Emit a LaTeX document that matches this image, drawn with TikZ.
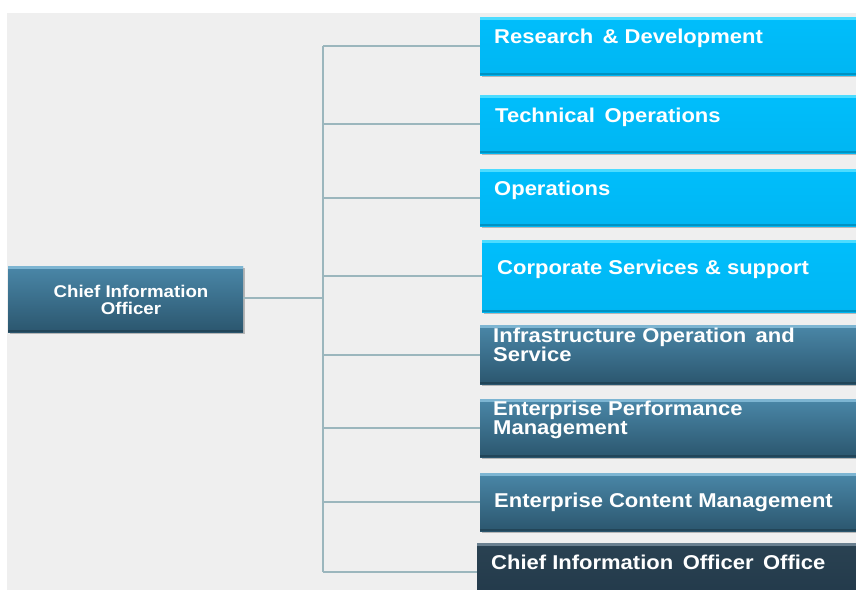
\documentclass[tikz,border=0pt]{standalone}
\usepackage{fontspec}
\setmainfont{Liberation Sans}[FakeStretch=1.1]
\usetikzlibrary{shadows}
\definecolor{bg}{HTML}{EFEFEF}
\definecolor{skyA}{HTML}{00BEFC}
\definecolor{skyB}{HTML}{00B6F2}
\definecolor{skyTop}{HTML}{4CDCFF}
\definecolor{tealA}{HTML}{4A87A8}
\definecolor{tealB}{HTML}{2B566E}
\definecolor{tealTop}{HTML}{7DB5D2}
\definecolor{darkA}{HTML}{2A4252}
\definecolor{darkB}{HTML}{22394A}
\definecolor{darkTop}{HTML}{6A8090}
\definecolor{wire}{HTML}{9BB6BD}
\tikzset{
  boxbase/.style={rectangle, anchor=north west, inner sep=0pt, draw=none,
    drop shadow={shadow xshift=1.5pt, shadow yshift=-2pt, opacity=0.35, fill=black!70}},
  skybox/.style={boxbase, top color=skyA, bottom color=skyB,
    path picture={\fill[skyTop] (path picture bounding box.north west) rectangle ([yshift=-3pt]path picture bounding box.north east);
                  \fill[skyB!80!black] (path picture bounding box.south west) rectangle ([yshift=2pt]path picture bounding box.south east);}},
  tealbox/.style={boxbase, top color=tealA, bottom color=tealB,
    path picture={\fill[tealTop] (path picture bounding box.north west) rectangle ([yshift=-3pt]path picture bounding box.north east);
                  \fill[tealB!80!black] (path picture bounding box.south west) rectangle ([yshift=2pt]path picture bounding box.south east);}},
  darkbox/.style={boxbase, top color=darkA, bottom color=darkB,
    path picture={\fill[darkTop] (path picture bounding box.north west) rectangle ([yshift=-3pt]path picture bounding box.north east);}},
  lbl/.style={anchor=base west, inner sep=0pt, text=white, align=left,
    font=\bfseries\fontsize{20}{19}\selectfont},
  ciolbl/.style={anchor=base, inner sep=0pt, text=white, align=center,
    font=\bfseries\fontsize{17}{17}\selectfont},
  wireline/.style={draw=wire, line width=2pt},
  busline/.style={draw=wire, line width=2.6pt}
}
\begin{document}
\begin{tikzpicture}[x=1pt,y=-1pt]
\useasboundingbox (0,0) rectangle (856,589);
\clip (0,0) rectangle (856,589);
\fill[white] (0,0) rectangle (856,589);
\fill[bg] (7,13) rectangle (860,595);

% boxes
\node[tealbox, minimum width=235pt, minimum height=66pt] (cio) at (8,266) {};
\node[skybox, minimum width=380pt, minimum height=58pt] (b1) at (480,17) {};
\node[skybox, minimum width=380pt, minimum height=58pt] (b2) at (480,95) {};
\node[skybox, minimum width=380pt, minimum height=57pt] (b3) at (480,169) {};
\node[skybox, minimum width=380pt, minimum height=72pt] (b4) at (482,240) {};
\node[tealbox, minimum width=380pt, minimum height=59pt] (b5) at (480,325) {};
\node[tealbox, minimum width=380pt, minimum height=58pt] (b6) at (480,399) {};
\node[tealbox, minimum width=380pt, minimum height=58pt] (b7) at (480,473) {};
\node[darkbox, minimum width=385pt, minimum height=58pt] (b8) at (477,543) {};

% connectors
\coordinate (j) at (323,298);
\draw[busline] (323,46) -- (323,572);
\draw[wireline] (cio.east |- j) -- (j);
\foreach \b in {b1,b2,b3,b4,b5,b6,b7,b8}{
  \draw[wireline] (j |- \b.west) -- (\b.west);
}

% labels (base anchor = baseline of last line)
\node[ciolbl] (tcio) at (131,314) {Chief Information\\Officer};
\node[lbl] (t1) at (494,43) {Research \,\& Development};
\node[lbl] (t2) at (495,122) {Technical\, Operations};
\node[lbl] (t3) at (494,195) {Operations};
\node[lbl] (t4) at (497,274) {Corporate Services \& support};
\node[lbl] (t5) at (493,361) {Infrastructure Operation \,and\\Service};
\node[lbl] (t6) at (493,434) {Enterprise Performance\\Management};
\node[lbl] (t7) at (494,507) {Enterprise Content Management};
\node[lbl] (t8) at (491,569) {Chief Information\, Officer\, Office};
\end{tikzpicture}
\end{document}
